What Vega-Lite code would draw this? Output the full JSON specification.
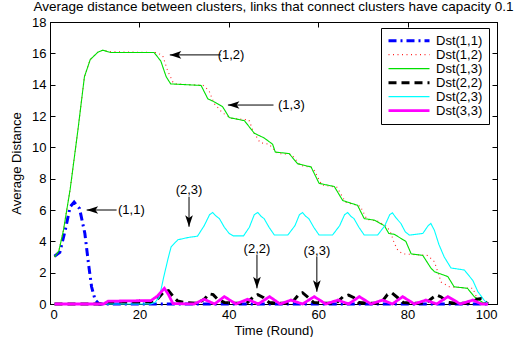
{
  "$schema": "https://vega.github.io/schema/vega-lite/v6.json",
  "autosize": "none",
  "width": 447,
  "height": 282,
  "padding": {"left": 50, "top": 22, "right": 21, "bottom": 33},
  "background": "white",
  "title": {"text": "Average distance between clusters, links that connect clusters have capacity 0.1", "font": "Liberation Sans", "fontSize": 13.5, "fontWeight": "normal", "color": "black", "anchor": "middle", "frame": "group", "offset": 3},
  "config": {
    "view": {"stroke": "black", "strokeWidth": 1},
    "axis": {"grid": false, "domainColor": "black", "tickColor": "black", "labelColor": "black", "titleColor": "black", "labelFont": "Liberation Sans", "titleFont": "Liberation Sans", "labelFontSize": 13, "titleFontSize": 13, "titleFontWeight": "normal", "tickSize": -5, "labelPadding": 9},
    "legend": {"orient": "none", "legendX": 331, "legendY": 6, "strokeColor": "black", "fillColor": "white", "padding": 6, "labelFont": "Liberation Sans", "labelFontSize": 13, "labelColor": "black", "symbolType": "stroke", "symbolSize": 1681, "clipHeight": 13.3, "rowPadding": 0, "labelOffset": 5}
  },
  "datasets": {
    "lines": [
      {"s": "Dst(1,1)", "x": 1, "y": 3.05}, {"s": "Dst(1,1)", "x": 2.2, "y": 3.3}, {"s": "Dst(1,1)", "x": 3.4, "y": 4.7}, {"s": "Dst(1,1)", "x": 4.5, "y": 6.2}, {"s": "Dst(1,1)", "x": 5.4, "y": 6.5}, {"s": "Dst(1,1)", "x": 6.6, "y": 6.1}, {"s": "Dst(1,1)", "x": 7.8, "y": 4.5}, {"s": "Dst(1,1)", "x": 8.6, "y": 2.6}, {"s": "Dst(1,1)", "x": 9.3, "y": 1.1}, {"s": "Dst(1,1)", "x": 10.1, "y": 0.25}, {"s": "Dst(1,1)", "x": 11, "y": 0}, {"s": "Dst(1,1)", "x": 98, "y": 0},

      {"s": "Dst(1,2)", "x": 1, "y": 3.0}, {"s": "Dst(1,2)", "x": 2, "y": 3.4}, {"s": "Dst(1,2)", "x": 3, "y": 4.7}, {"s": "Dst(1,2)", "x": 4.5, "y": 7.3}, {"s": "Dst(1,2)", "x": 6.2, "y": 11}, {"s": "Dst(1,2)", "x": 7.7, "y": 14.5}, {"s": "Dst(1,2)", "x": 9, "y": 15.6}, {"s": "Dst(1,2)", "x": 10.7, "y": 16.07}, {"s": "Dst(1,2)", "x": 11.8, "y": 16.2}, {"s": "Dst(1,2)", "x": 13.6, "y": 16.1}, {"s": "Dst(1,2)", "x": 23.8, "y": 16.05}, {"s": "Dst(1,2)", "x": 25.2, "y": 15.86}, {"s": "Dst(1,2)", "x": 26.3, "y": 14.9}, {"s": "Dst(1,2)", "x": 27.5, "y": 14.16}, {"s": "Dst(1,2)", "x": 28, "y": 14.05}, {"s": "Dst(1,2)", "x": 34.3, "y": 13.95}, {"s": "Dst(1,2)", "x": 35.6, "y": 13.6}, {"s": "Dst(1,2)", "x": 36.7, "y": 12.8}, {"s": "Dst(1,2)", "x": 38.6, "y": 12.2}, {"s": "Dst(1,2)", "x": 40.6, "y": 11.85}, {"s": "Dst(1,2)", "x": 44.5, "y": 11.75}, {"s": "Dst(1,2)", "x": 45.5, "y": 11.0}, {"s": "Dst(1,2)", "x": 47, "y": 10.3}, {"s": "Dst(1,2)", "x": 49, "y": 10.2}, {"s": "Dst(1,2)", "x": 51, "y": 9.6}, {"s": "Dst(1,2)", "x": 54, "y": 9.55}, {"s": "Dst(1,2)", "x": 56, "y": 8.85}, {"s": "Dst(1,2)", "x": 58.8, "y": 8.7}, {"s": "Dst(1,2)", "x": 60.8, "y": 7.6}, {"s": "Dst(1,2)", "x": 64.2, "y": 7.45}, {"s": "Dst(1,2)", "x": 66.1, "y": 6.5}, {"s": "Dst(1,2)", "x": 69.4, "y": 6.25}, {"s": "Dst(1,2)", "x": 70.9, "y": 5.4}, {"s": "Dst(1,2)", "x": 73.2, "y": 5.3}, {"s": "Dst(1,2)", "x": 75.4, "y": 4.95}, {"s": "Dst(1,2)", "x": 76.3, "y": 4.5}, {"s": "Dst(1,2)", "x": 77, "y": 3.9}, {"s": "Dst(1,2)", "x": 77.8, "y": 3.44}, {"s": "Dst(1,2)", "x": 78.9, "y": 3.2}, {"s": "Dst(1,2)", "x": 84.5, "y": 3.1}, {"s": "Dst(1,2)", "x": 86, "y": 2.7}, {"s": "Dst(1,2)", "x": 87.5, "y": 1.4}, {"s": "Dst(1,2)", "x": 89.3, "y": 1.1}, {"s": "Dst(1,2)", "x": 94.6, "y": 1.0}, {"s": "Dst(1,2)", "x": 95.7, "y": 0.25}, {"s": "Dst(1,2)", "x": 96.8, "y": 0},

      {"s": "Dst(1,3)", "x": 1, "y": 3.0}, {"s": "Dst(1,3)", "x": 2, "y": 3.4}, {"s": "Dst(1,3)", "x": 3, "y": 4.7}, {"s": "Dst(1,3)", "x": 4.5, "y": 7.3}, {"s": "Dst(1,3)", "x": 6.2, "y": 11}, {"s": "Dst(1,3)", "x": 7.7, "y": 14.5}, {"s": "Dst(1,3)", "x": 9, "y": 15.6}, {"s": "Dst(1,3)", "x": 10.7, "y": 16.07}, {"s": "Dst(1,3)", "x": 11.8, "y": 16.2}, {"s": "Dst(1,3)", "x": 13.6, "y": 16.05}, {"s": "Dst(1,3)", "x": 23.3, "y": 16.05}, {"s": "Dst(1,3)", "x": 24.8, "y": 15.5}, {"s": "Dst(1,3)", "x": 26, "y": 14.5}, {"s": "Dst(1,3)", "x": 27, "y": 14.05}, {"s": "Dst(1,3)", "x": 33.8, "y": 13.95}, {"s": "Dst(1,3)", "x": 35.3, "y": 13.1}, {"s": "Dst(1,3)", "x": 36.4, "y": 12.95}, {"s": "Dst(1,3)", "x": 38.6, "y": 12.6}, {"s": "Dst(1,3)", "x": 40.1, "y": 11.9}, {"s": "Dst(1,3)", "x": 43.5, "y": 11.7}, {"s": "Dst(1,3)", "x": 45.7, "y": 10.9}, {"s": "Dst(1,3)", "x": 47.9, "y": 10.6}, {"s": "Dst(1,3)", "x": 49.8, "y": 10.2}, {"s": "Dst(1,3)", "x": 50.4, "y": 9.7}, {"s": "Dst(1,3)", "x": 53.5, "y": 9.6}, {"s": "Dst(1,3)", "x": 55.4, "y": 8.95}, {"s": "Dst(1,3)", "x": 58.4, "y": 8.75}, {"s": "Dst(1,3)", "x": 60.2, "y": 7.7}, {"s": "Dst(1,3)", "x": 63.6, "y": 7.5}, {"s": "Dst(1,3)", "x": 65.5, "y": 6.6}, {"s": "Dst(1,3)", "x": 68.8, "y": 6.3}, {"s": "Dst(1,3)", "x": 70.3, "y": 5.45}, {"s": "Dst(1,3)", "x": 72.6, "y": 5.35}, {"s": "Dst(1,3)", "x": 74.8, "y": 5.0}, {"s": "Dst(1,3)", "x": 75.8, "y": 4.5}, {"s": "Dst(1,3)", "x": 77, "y": 4.45}, {"s": "Dst(1,3)", "x": 79.6, "y": 4.0}, {"s": "Dst(1,3)", "x": 80.8, "y": 3.2}, {"s": "Dst(1,3)", "x": 83.4, "y": 3.1}, {"s": "Dst(1,3)", "x": 85.2, "y": 2.3}, {"s": "Dst(1,3)", "x": 86, "y": 2.06}, {"s": "Dst(1,3)", "x": 89, "y": 1.75}, {"s": "Dst(1,3)", "x": 90.4, "y": 1.1}, {"s": "Dst(1,3)", "x": 93.4, "y": 1.0}, {"s": "Dst(1,3)", "x": 94.9, "y": 0.47}, {"s": "Dst(1,3)", "x": 96.8, "y": 0.1}, {"s": "Dst(1,3)", "x": 98, "y": 0},

      {"s": "Dst(2,2)", "x": 1, "y": 0}, {"s": "Dst(2,2)", "x": 12, "y": 0}, {"s": "Dst(2,2)", "x": 13, "y": 0.1}, {"s": "Dst(2,2)", "x": 22.5, "y": 0.12}, {"s": "Dst(2,2)", "x": 24, "y": 0.3}, {"s": "Dst(2,2)", "x": 25.5, "y": 0.8}, {"s": "Dst(2,2)", "x": 26.5, "y": 0.85}, {"s": "Dst(2,2)", "x": 27.5, "y": 0.5}, {"s": "Dst(2,2)", "x": 28.5, "y": 0.2}, {"s": "Dst(2,2)", "x": 30, "y": 0.1}, {"s": "Dst(2,2)", "x": 33, "y": 0.05}, {"s": "Dst(2,2)", "x": 34.5, "y": 0.3}, {"s": "Dst(2,2)", "x": 35.6, "y": 0.65}, {"s": "Dst(2,2)", "x": 36.5, "y": 0.6}, {"s": "Dst(2,2)", "x": 37.5, "y": 0.3}, {"s": "Dst(2,2)", "x": 39, "y": 0.1}, {"s": "Dst(2,2)", "x": 41, "y": 0.05}, {"s": "Dst(2,2)", "x": 44, "y": 0.05}, {"s": "Dst(2,2)", "x": 45.5, "y": 0.45}, {"s": "Dst(2,2)", "x": 46.5, "y": 0.6}, {"s": "Dst(2,2)", "x": 47.8, "y": 0.4}, {"s": "Dst(2,2)", "x": 49, "y": 0.1}, {"s": "Dst(2,2)", "x": 51, "y": 0.05}, {"s": "Dst(2,2)", "x": 54, "y": 0.05}, {"s": "Dst(2,2)", "x": 55.5, "y": 0.55}, {"s": "Dst(2,2)", "x": 56.5, "y": 0.72}, {"s": "Dst(2,2)", "x": 57.8, "y": 0.4}, {"s": "Dst(2,2)", "x": 59, "y": 0.1}, {"s": "Dst(2,2)", "x": 61, "y": 0.05}, {"s": "Dst(2,2)", "x": 64, "y": 0.05}, {"s": "Dst(2,2)", "x": 65.5, "y": 0.45}, {"s": "Dst(2,2)", "x": 66.8, "y": 0.57}, {"s": "Dst(2,2)", "x": 68, "y": 0.4}, {"s": "Dst(2,2)", "x": 69, "y": 0.1}, {"s": "Dst(2,2)", "x": 71, "y": 0.05}, {"s": "Dst(2,2)", "x": 74, "y": 0.05}, {"s": "Dst(2,2)", "x": 75.5, "y": 0.6}, {"s": "Dst(2,2)", "x": 76.5, "y": 0.7}, {"s": "Dst(2,2)", "x": 77.8, "y": 0.4}, {"s": "Dst(2,2)", "x": 79, "y": 0.1}, {"s": "Dst(2,2)", "x": 81, "y": 0.05}, {"s": "Dst(2,2)", "x": 84, "y": 0.05}, {"s": "Dst(2,2)", "x": 85.6, "y": 0.4}, {"s": "Dst(2,2)", "x": 86.5, "y": 0.57}, {"s": "Dst(2,2)", "x": 87.5, "y": 0.45}, {"s": "Dst(2,2)", "x": 89, "y": 0.1}, {"s": "Dst(2,2)", "x": 91, "y": 0.05}, {"s": "Dst(2,2)", "x": 94, "y": 0.05}, {"s": "Dst(2,2)", "x": 95.5, "y": 0.3}, {"s": "Dst(2,2)", "x": 96.5, "y": 0.35}, {"s": "Dst(2,2)", "x": 97.5, "y": 0.1}, {"s": "Dst(2,2)", "x": 98, "y": 0},

      {"s": "Dst(2,3)", "x": 1, "y": 0}, {"s": "Dst(2,3)", "x": 22.5, "y": 0}, {"s": "Dst(2,3)", "x": 23.5, "y": 0.1}, {"s": "Dst(2,3)", "x": 24.5, "y": 0.47}, {"s": "Dst(2,3)", "x": 25.5, "y": 1.8}, {"s": "Dst(2,3)", "x": 26.5, "y": 3.0}, {"s": "Dst(2,3)", "x": 27.1, "y": 3.65}, {"s": "Dst(2,3)", "x": 28.6, "y": 4.1}, {"s": "Dst(2,3)", "x": 31, "y": 4.25}, {"s": "Dst(2,3)", "x": 33, "y": 4.33}, {"s": "Dst(2,3)", "x": 34.5, "y": 5.0}, {"s": "Dst(2,3)", "x": 35.7, "y": 5.7}, {"s": "Dst(2,3)", "x": 36.4, "y": 5.84}, {"s": "Dst(2,3)", "x": 37.2, "y": 5.6}, {"s": "Dst(2,3)", "x": 37.9, "y": 5.45}, {"s": "Dst(2,3)", "x": 39, "y": 4.9}, {"s": "Dst(2,3)", "x": 40.1, "y": 4.5}, {"s": "Dst(2,3)", "x": 41, "y": 4.35}, {"s": "Dst(2,3)", "x": 43.3, "y": 4.35}, {"s": "Dst(2,3)", "x": 44.6, "y": 4.9}, {"s": "Dst(2,3)", "x": 45.7, "y": 5.7}, {"s": "Dst(2,3)", "x": 46.5, "y": 5.84}, {"s": "Dst(2,3)", "x": 47.2, "y": 5.6}, {"s": "Dst(2,3)", "x": 47.9, "y": 5.45}, {"s": "Dst(2,3)", "x": 49, "y": 4.9}, {"s": "Dst(2,3)", "x": 50.2, "y": 4.4}, {"s": "Dst(2,3)", "x": 53.2, "y": 4.4}, {"s": "Dst(2,3)", "x": 54.8, "y": 5.0}, {"s": "Dst(2,3)", "x": 55.8, "y": 5.7}, {"s": "Dst(2,3)", "x": 56.5, "y": 5.84}, {"s": "Dst(2,3)", "x": 57.2, "y": 5.6}, {"s": "Dst(2,3)", "x": 57.9, "y": 5.45}, {"s": "Dst(2,3)", "x": 59, "y": 4.9}, {"s": "Dst(2,3)", "x": 60.2, "y": 4.4}, {"s": "Dst(2,3)", "x": 63.2, "y": 4.4}, {"s": "Dst(2,3)", "x": 64.8, "y": 5.0}, {"s": "Dst(2,3)", "x": 65.9, "y": 5.7}, {"s": "Dst(2,3)", "x": 66.6, "y": 5.84}, {"s": "Dst(2,3)", "x": 67.3, "y": 5.6}, {"s": "Dst(2,3)", "x": 68, "y": 5.45}, {"s": "Dst(2,3)", "x": 69.1, "y": 4.9}, {"s": "Dst(2,3)", "x": 70.3, "y": 4.4}, {"s": "Dst(2,3)", "x": 73.3, "y": 4.4}, {"s": "Dst(2,3)", "x": 74.9, "y": 5.0}, {"s": "Dst(2,3)", "x": 76, "y": 5.7}, {"s": "Dst(2,3)", "x": 76.6, "y": 5.82}, {"s": "Dst(2,3)", "x": 77.4, "y": 5.5}, {"s": "Dst(2,3)", "x": 78.5, "y": 5.14}, {"s": "Dst(2,3)", "x": 79.5, "y": 4.6}, {"s": "Dst(2,3)", "x": 80.4, "y": 4.4}, {"s": "Dst(2,3)", "x": 83.4, "y": 4.5}, {"s": "Dst(2,3)", "x": 84.6, "y": 5.0}, {"s": "Dst(2,3)", "x": 85.2, "y": 5.14}, {"s": "Dst(2,3)", "x": 86, "y": 4.7}, {"s": "Dst(2,3)", "x": 87, "y": 3.8}, {"s": "Dst(2,3)", "x": 88.2, "y": 3.0}, {"s": "Dst(2,3)", "x": 89.7, "y": 2.3}, {"s": "Dst(2,3)", "x": 92.7, "y": 2.17}, {"s": "Dst(2,3)", "x": 94.6, "y": 1.5}, {"s": "Dst(2,3)", "x": 95.7, "y": 0.8}, {"s": "Dst(2,3)", "x": 97.1, "y": 0.25}, {"s": "Dst(2,3)", "x": 98, "y": 0},

      {"s": "Dst(3,3)", "x": 1, "y": 0}, {"s": "Dst(3,3)", "x": 12, "y": 0}, {"s": "Dst(3,3)", "x": 13, "y": 0.18}, {"s": "Dst(3,3)", "x": 22.6, "y": 0.22}, {"s": "Dst(3,3)", "x": 24, "y": 0.5}, {"s": "Dst(3,3)", "x": 25.6, "y": 1.0}, {"s": "Dst(3,3)", "x": 26.5, "y": 0.6}, {"s": "Dst(3,3)", "x": 27.5, "y": 0.03}, {"s": "Dst(3,3)", "x": 32.2, "y": 0}, {"s": "Dst(3,3)", "x": 34.5, "y": 0.3}, {"s": "Dst(3,3)", "x": 36.8, "y": 0}, {"s": "Dst(3,3)", "x": 39, "y": 0.47}, {"s": "Dst(3,3)", "x": 41.6, "y": 0}, {"s": "Dst(3,3)", "x": 44.2, "y": 0.3}, {"s": "Dst(3,3)", "x": 46.6, "y": 0}, {"s": "Dst(3,3)", "x": 49.1, "y": 0.47}, {"s": "Dst(3,3)", "x": 51.5, "y": 0}, {"s": "Dst(3,3)", "x": 53.9, "y": 0.25}, {"s": "Dst(3,3)", "x": 56.5, "y": 0}, {"s": "Dst(3,3)", "x": 59.1, "y": 0.47}, {"s": "Dst(3,3)", "x": 61.7, "y": 0}, {"s": "Dst(3,3)", "x": 64.4, "y": 0.25}, {"s": "Dst(3,3)", "x": 66.8, "y": 0}, {"s": "Dst(3,3)", "x": 69.2, "y": 0.47}, {"s": "Dst(3,3)", "x": 71.8, "y": 0}, {"s": "Dst(3,3)", "x": 74.4, "y": 0.25}, {"s": "Dst(3,3)", "x": 76.6, "y": 0}, {"s": "Dst(3,3)", "x": 78.9, "y": 0.47}, {"s": "Dst(3,3)", "x": 81.5, "y": 0}, {"s": "Dst(3,3)", "x": 84.1, "y": 0.25}, {"s": "Dst(3,3)", "x": 86.5, "y": 0}, {"s": "Dst(3,3)", "x": 89, "y": 0.47}, {"s": "Dst(3,3)", "x": 91.8, "y": 0}, {"s": "Dst(3,3)", "x": 94.6, "y": 0.25}, {"s": "Dst(3,3)", "x": 96.5, "y": 0}, {"s": "Dst(3,3)", "x": 98, "y": 0}
    ],
    "arrows": [
      {"x": 38.2, "y": 15.9, "x2": 26.8, "y2": 15.9, "dir": "left"},
      {"x": 50, "y": 12.7, "x2": 39.8, "y2": 12.7, "dir": "left"},
      {"x": 14.9, "y": 6.0, "x2": 8.2, "y2": 6.0, "dir": "left"},
      {"x": 31.1, "y": 6.85, "x2": 31.1, "y2": 4.93, "dir": "down"},
      {"x": 46.3, "y": 3.13, "x2": 46.3, "y2": 1.0, "dir": "down"},
      {"x": 59.7, "y": 3.02, "x2": 59.7, "y2": 0.78, "dir": "down"}
    ],
    "labels": [
      {"x": 40.5, "y": 15.9, "t": "(1,2)"},
      {"x": 54.0, "y": 12.7, "t": "(1,3)"},
      {"x": 18.2, "y": 6.0, "t": "(1,1)"},
      {"x": 31.1, "y": 7.3, "t": "(2,3)"},
      {"x": 46.3, "y": 3.5, "t": "(2,2)"},
      {"x": 59.7, "y": 3.4, "t": "(3,3)"}
    ]
  },
  "resolve": {"axis": {"x": "independent", "y": "independent"}},
  "layer": [
    {
      "data": {"name": "lines"},
      "mark": {"type": "line", "interpolate": "linear"},
      "encoding": {
        "x": {"field": "x", "type": "quantitative", "scale": {"domain": [0, 100], "nice": false}, "axis": {"title": "Time (Round)", "values": [0, 20, 40, 60, 80, 100], "orient": "bottom", "titlePadding": 3}},
        "y": {"field": "y", "type": "quantitative", "scale": {"domain": [0, 18], "nice": false}, "axis": {"title": "Average Distance", "values": [0, 2, 4, 6, 8, 10, 12, 14, 16, 18], "orient": "left", "titlePadding": 8}},
        "color": {"field": "s", "type": "nominal", "title": null, "scale": {"domain": ["Dst(1,1)", "Dst(1,2)", "Dst(1,3)", "Dst(2,2)", "Dst(2,3)", "Dst(3,3)"], "range": ["#0000ff", "#ff2222", "#00e000", "#000000", "#00ffff", "#ff00ff"]}},
        "strokeDash": {"field": "s", "type": "nominal", "title": null, "scale": {"domain": ["Dst(1,1)", "Dst(1,2)", "Dst(1,3)", "Dst(2,2)", "Dst(2,3)", "Dst(3,3)"], "range": [[8, 4, 2, 4], [1, 3.5], [1, 0], [8, 5], [1, 0], [1, 0]]}},
        "strokeWidth": {"field": "s", "type": "nominal", "title": null, "scale": {"type": "ordinal", "domain": ["Dst(1,1)", "Dst(1,2)", "Dst(1,3)", "Dst(2,2)", "Dst(2,3)", "Dst(3,3)"], "range": [3, 1.1, 1.1, 3, 1.1, 2.8]}},
        "order": {"field": "x", "type": "quantitative"}
      }
    },
    {
      "data": {"name": "arrows"},
      "mark": {"type": "rule", "color": "black", "strokeWidth": 1},
      "encoding": {
        "x": {"field": "x", "type": "quantitative", "axis": {"orient": "top", "labels": false, "title": null, "values": [0, 20, 40, 60, 80, 100]}},
        "x2": {"field": "x2"},
        "y": {"field": "y", "type": "quantitative", "axis": {"orient": "right", "labels": false, "title": null, "values": [0, 2, 4, 6, 8, 10, 12, 14, 16, 18]}},
        "y2": {"field": "y2"}
      }
    },
    {
      "data": {"name": "arrows"},
      "mark": {"type": "point", "filled": true, "color": "black", "opacity": 1, "size": 120},
      "encoding": {
        "x": {"field": "x2", "type": "quantitative", "axis": null},
        "y": {"field": "y2", "type": "quantitative", "axis": null},
        "shape": {"field": "dir", "type": "nominal", "legend": null, "scale": {"domain": ["left", "down"], "range": ["M0,0 L2.1,-0.7 L1.6,0 L2.1,0.7 Z", "M0,0 L-0.7,-2.1 L0,-1.6 L0.7,-2.1 Z"]}}
      }
    },
    {
      "data": {"name": "labels"},
      "mark": {"type": "text", "font": "Liberation Sans", "fontSize": 13, "color": "black", "align": "center", "baseline": "middle"},
      "encoding": {
        "x": {"field": "x", "type": "quantitative", "axis": null},
        "y": {"field": "y", "type": "quantitative", "axis": null},
        "text": {"field": "t"}
      }
    }
  ]
}
